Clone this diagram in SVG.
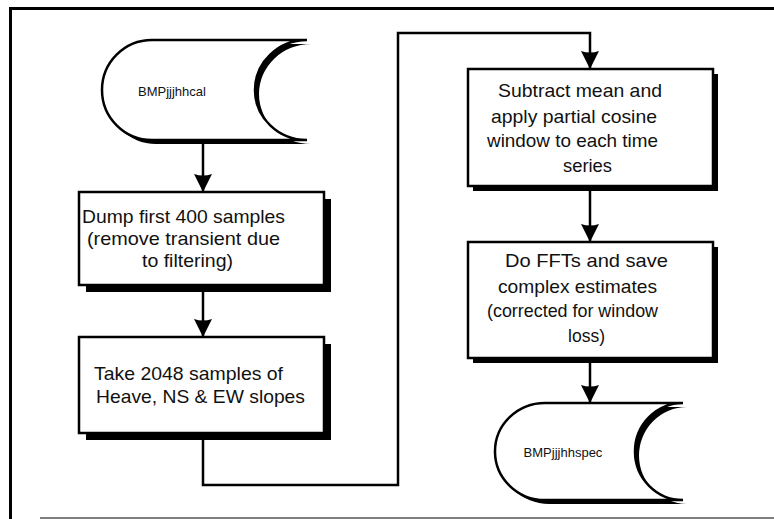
<svg xmlns="http://www.w3.org/2000/svg" width="774" height="519" viewBox="0 0 774 519">
  <style>
    .frame { fill: none; stroke: #000; }
    .box { fill: #fff; stroke: #000; stroke-width: 2.5; }
    .shadow { fill: #000; }
    .lbl { font-family: "Liberation Sans", Arial, sans-serif; font-size: 18.5px; fill: #111; }
    .store { font-family: "Liberation Sans", Arial, sans-serif; font-size: 13px; fill: #111; }
    .wire { fill: none; stroke: #000; stroke-width: 2.5; }
  </style>
  <defs>
    <marker id="head" markerUnits="userSpaceOnUse" markerWidth="22" markerHeight="18" refX="20" refY="9" orient="auto">
      <path d="M2,0 L20,9 L2,18 Q5,9 2,0 Z" fill="#000"/>
    </marker>
    <!-- stored-data symbol: rounded left end, concave right end -->
    <path id="storeShape1" d="M152,40 L307,40 A52,50 0 0 0 307,140 L152,140 A50,50 0 0 1 152,40 Z"/>
    <path id="storeShape2" d="M545,403 L683,403 A48,48.5 0 0 0 683,500 L545,500 A50,48.5 0 0 1 545,403 Z"/>
  </defs>

  <!-- page frame -->
  <g id="frame">
    <line class="frame" x1="9" y1="8.5" x2="774" y2="8.5" stroke-width="3"/>
    <line class="frame" x1="10.5" y1="7" x2="10.5" y2="519" stroke-width="3"/>
    <line class="frame" x1="40" y1="518" x2="774" y2="518" stroke-width="1.2"/>
  </g>

  <!-- connectors -->
  <g id="connectors">
    <line class="wire" x1="203" y1="141" x2="203" y2="192" marker-end="url(#head)"/>
    <line class="wire" x1="203" y1="292" x2="203" y2="337" marker-end="url(#head)"/>
    <polyline class="wire" points="203,440 203,485 398,485 398,33 590,33 590,69" marker-end="url(#head)"/>
    <line class="wire" x1="590" y1="191" x2="590" y2="242" marker-end="url(#head)"/>
    <line class="wire" x1="590" y1="363" x2="590" y2="403" marker-end="url(#head)"/>
  </g>

  <!-- input data file -->
  <g id="node-cal">
    <use href="#storeShape1" class="shadow" transform="translate(4,4)"/>
    <use href="#storeShape1" class="box" stroke-width="2"/>
    <text class="store" x="172" y="96" text-anchor="middle">BMPjjjhhcal</text>
  </g>

  <!-- step 1 -->
  <g id="node-dump">
    <rect class="shadow" x="86" y="199" width="245" height="93"/>
    <rect class="box" x="79" y="192" width="245" height="93"/>
    <text class="lbl" x="82" y="223" textLength="203" lengthAdjust="spacingAndGlyphs">Dump first 400 samples</text>
    <text class="lbl" x="87" y="245" textLength="193" lengthAdjust="spacingAndGlyphs">(remove transient due</text>
    <text class="lbl" x="142" y="267" textLength="91" lengthAdjust="spacingAndGlyphs">to filtering)</text>
  </g>

  <!-- step 2 -->
  <g id="node-take">
    <rect class="shadow" x="86" y="344" width="245" height="96"/>
    <rect class="box" x="79" y="337" width="245" height="96"/>
    <text class="lbl" x="94" y="380" textLength="189" lengthAdjust="spacingAndGlyphs">Take 2048 samples of</text>
    <text class="lbl" x="96" y="403" textLength="209" lengthAdjust="spacingAndGlyphs">Heave, NS &amp; EW slopes</text>
  </g>

  <!-- step 3 -->
  <g id="node-window">
    <rect class="shadow" x="473" y="74" width="245" height="117"/>
    <rect class="box" x="468" y="69" width="245" height="117"/>
    <text class="lbl" x="498" y="97" textLength="164" lengthAdjust="spacingAndGlyphs">Subtract mean and</text>
    <text class="lbl" x="491" y="123" textLength="166" lengthAdjust="spacingAndGlyphs">apply partial cosine</text>
    <text class="lbl" x="487" y="147" textLength="171" lengthAdjust="spacingAndGlyphs">window to each time</text>
    <text class="lbl" x="563" y="172" textLength="49" lengthAdjust="spacingAndGlyphs">series</text>
  </g>

  <!-- step 4 -->
  <g id="node-fft">
    <rect class="shadow" x="473" y="247" width="245" height="116"/>
    <rect class="box" x="468" y="242" width="245" height="116"/>
    <text class="lbl" x="505" y="267" textLength="163" lengthAdjust="spacingAndGlyphs">Do FFTs and save</text>
    <text class="lbl" x="498" y="293" textLength="159" lengthAdjust="spacingAndGlyphs">complex estimates</text>
    <text class="lbl" x="487" y="317" textLength="171" lengthAdjust="spacingAndGlyphs">(corrected for window</text>
    <text class="lbl" x="568" y="342" textLength="37" lengthAdjust="spacingAndGlyphs">loss)</text>
  </g>

  <!-- output spectra file -->
  <g id="node-spec">
    <use href="#storeShape2" class="shadow" transform="translate(4,4)"/>
    <use href="#storeShape2" class="box" stroke-width="2"/>
    <text class="store" x="563" y="457" text-anchor="middle">BMPjjjhhspec</text>
  </g>
</svg>
